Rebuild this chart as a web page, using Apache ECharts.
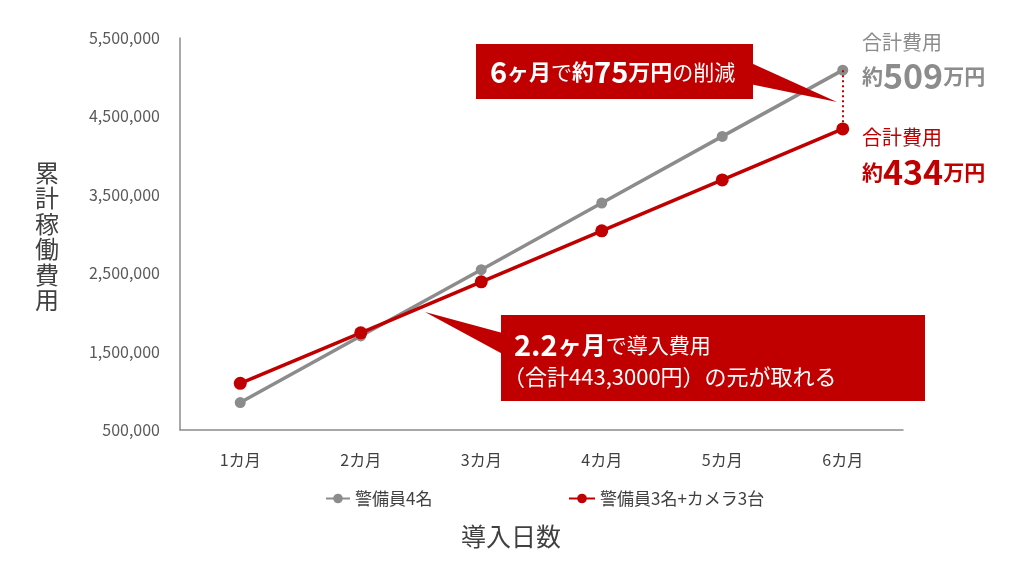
<!DOCTYPE html>
<html><head><meta charset="utf-8">
<script src="https://cdn.jsdelivr.net/npm/echarts@6/dist/echarts.min.js"></script>
<style>html,body{margin:0;padding:0;background:#fff}#c{width:1024px;height:576px}</style>
</head><body><div id="c"></div>
<script>
const categories = ['1カ月','2カ月','3カ月','4カ月','5カ月','6カ月'];
const seriesNames = ['警備員4名','警備員3名+カメラ3台'];
const guard4 = [850000, 1700000, 2545000, 3395000, 4245000, 5090000];
const guard3cam3 = [1095000, 1740000, 2390000, 3040000, 3690000, 4340000];
const yMin = 500000, yMax = 5500000, yStep = 1000000;

const GRAY = '#8c8c8c', RED = '#c00000';
const FONT = '"Noto Sans CJK JP", "Noto Sans", sans-serif';
const chart = echarts.init(document.getElementById('c'));
chart.setOption({
  animation: false,
  textStyle: { fontFamily: FONT },
  grid: { left: 180, right: 121, top: 38, bottom: 146 },
  legend: [
    { data: [seriesNames[0]], left: 320, top: 485, itemWidth: 24, itemHeight: 12, itemGap: 2,
      textStyle: { fontSize: 17, color: '#404040', fontFamily: FONT } },
    { data: [seriesNames[1]], left: 563, top: 485, itemWidth: 26, itemHeight: 12, itemGap: 2,
      textStyle: { fontSize: 17, color: '#404040', fontFamily: FONT } }
  ],
  xAxis: {
    type: 'category', data: categories, boundaryGap: true,
    axisLine: { lineStyle: { color: '#8c8c8c', width: 1.5 } },
    axisTick: { show: false },
    axisLabel: { fontSize: 16, color: '#404040', margin: 22, fontFamily: FONT }
  },
  yAxis: {
    type: 'value', min: yMin, max: yMax, interval: yStep,
    splitLine: { show: false },
    axisLine: { show: true, lineStyle: { color: '#8c8c8c', width: 1.5 } },
    axisTick: { show: false },
    axisLabel: { fontSize: 16, color: '#595959', margin: 20, fontFamily: FONT,
      formatter: v => v.toLocaleString('en-US') }
  },
  series: [
    { name: seriesNames[0], type: 'line', data: guard4, symbol: 'circle', symbolSize: 11,
      lineStyle: { color: GRAY, width: 3.5 }, itemStyle: { color: GRAY } },
    { name: seriesNames[1], type: 'line', data: guard3cam3, symbol: 'circle', symbolSize: 13,
      lineStyle: { color: RED, width: 3.5 }, itemStyle: { color: RED },
      markLine: { symbol: 'none', silent: true, label: { show: false },
        lineStyle: { color: RED, type: [2, 3], width: 2 },
        data: [[{ coord: [categories[5], guard4[5]] }, { coord: [categories[5], guard3cam3[5]] }]] } }
  ],
  graphic: [
    { type: 'text', z: 100, left: 35, top: 160,
      style: { text: '累\n計\n稼\n働\n費\n用', font: '24px ' + FONT, lineHeight: 25.5, fill: '#404040', align: 'center' } },
    { type: 'text', z: 100, left: 461, top: 524,
      style: { text: '導入日数', font: '25px ' + FONT, fill: '#404040' } },
    // callout 1
    { type: 'polygon', z: 100, shape: { points: [[740, 58], [740, 82], [837, 102]] }, style: { fill: RED } },
    { type: 'rect', z: 100, shape: { x: 476, y: 44, width: 277, height: 55 }, style: { fill: RED } },
    { type: 'text', z: 101, x: 490, y: 72,
      style: { text: '{a|6}{b|ヶ月}{c|で}{b|約}{a|75}{b|万円}{c|の削減}', verticalAlign: 'middle', fill: '#fff',
        rich: {
          a: { fontSize: 29, fontWeight: 'bold', fill: '#fff', fontFamily: FONT },
          b: { fontSize: 22, fontWeight: 'bold', fill: '#fff', fontFamily: FONT },
          c: { fontSize: 21, fill: '#fff', fontFamily: FONT }
        } } },
    // callout 2
    { type: 'polygon', z: 100, shape: { points: [[510, 335], [510, 358], [425, 312]] }, style: { fill: RED } },
    { type: 'rect', z: 100, shape: { x: 501, y: 315, width: 424, height: 86 }, style: { fill: RED } },
    { type: 'text', z: 101, x: 514, y: 345,
      style: { text: '{a|2.2}{b|ヶ月}{c|で導入費用}', verticalAlign: 'middle', fill: '#fff',
        rich: {
          a: { fontSize: 29, fontWeight: 'bold', fill: '#fff', fontFamily: FONT },
          b: { fontSize: 24, fontWeight: 'bold', fill: '#fff', fontFamily: FONT },
          c: { fontSize: 21, fill: '#fff', fontFamily: FONT }
        } } },
    { type: 'text', z: 101, x: 503, y: 377,
      style: { text: '（合計443,3000円）の元が取れる', verticalAlign: 'middle', fill: '#fff', font: '22px ' + FONT } },
    // right labels
    { type: 'text', z: 100, x: 862, y: 42,
      style: { text: '合計費用', verticalAlign: 'middle', fill: GRAY, font: '20px ' + FONT } },
    { type: 'text', z: 100, x: 862, y: 76,
      style: { text: '{b|約}{a|509}{b|万円}', verticalAlign: 'middle', fill: GRAY,
        rich: {
          a: { fontSize: 34, fontWeight: 'bold', fill: GRAY, fontFamily: FONT },
          b: { fontSize: 21, fontWeight: 'bold', fill: GRAY, fontFamily: FONT }
        } } },
    { type: 'text', z: 100, x: 862, y: 137,
      style: { text: '合計費用', verticalAlign: 'middle', fill: RED, font: '20px ' + FONT } },
    { type: 'text', z: 100, x: 862, y: 172,
      style: { text: '{b|約}{a|434}{b|万円}', verticalAlign: 'middle', fill: RED,
        rich: {
          a: { fontSize: 34, fontWeight: 'bold', fill: RED, fontFamily: FONT },
          b: { fontSize: 21, fontWeight: 'bold', fill: RED, fontFamily: FONT }
        } } }
  ]
});
</script></body></html>
